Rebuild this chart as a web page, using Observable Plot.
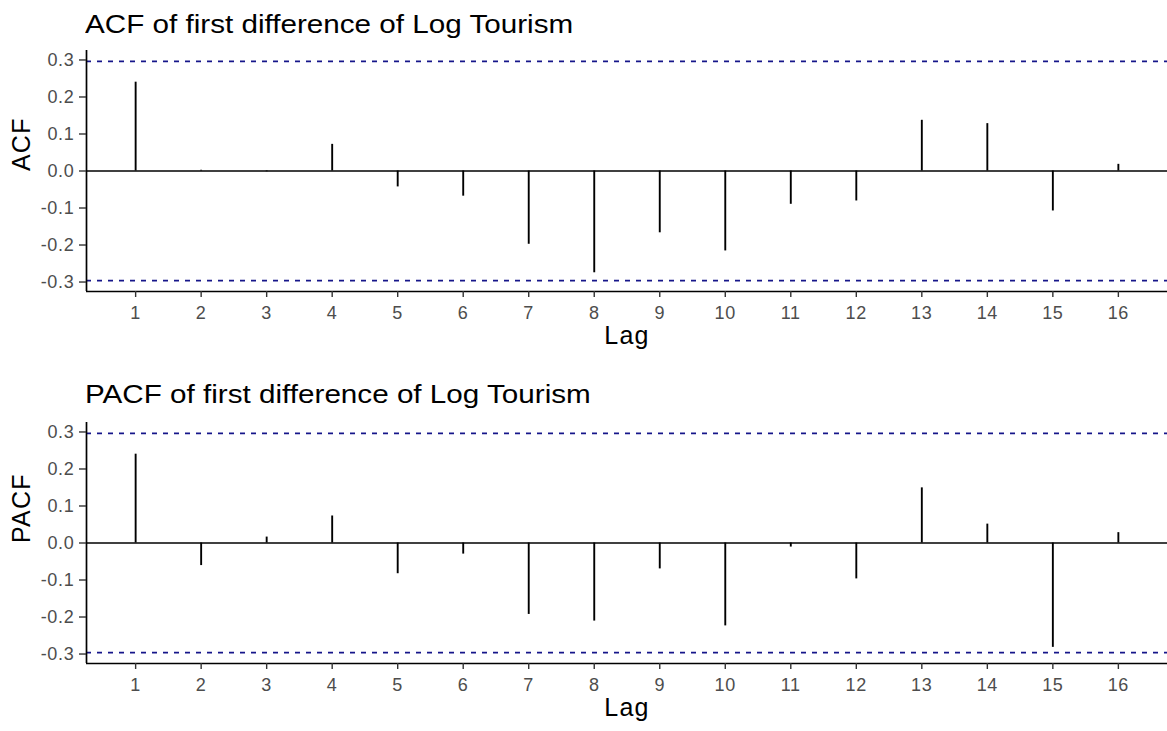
<!DOCTYPE html>
<html>
<head>
<meta charset="utf-8">
<script src="https://cdn.jsdelivr.net/npm/d3@7"></script>
<script src="https://cdn.jsdelivr.net/npm/@observablehq/plot@0.6"></script>
<style>
  html, body { margin: 0; padding: 0; background: #fff; }
  body { width: 1167px; height: 731px; overflow: hidden; position: relative; font-family: "Liberation Sans", Arial, sans-serif; }
  .title { position: absolute; left: 85px; font-size: 26px; line-height: 26px; color: #000; white-space: nowrap; transform: scaleX(1.14); transform-origin: left top; }
  .panel { position: absolute; left: 0; }
  .panel svg { display: block; overflow: visible; }
  .panel svg g[aria-label="x-axis tick label"],
  .panel svg g[aria-label="y-axis tick label"] { font-size: 18px; letter-spacing: 0.7px; }
  .panel svg g.axislabel { letter-spacing: 1.2px; }
</style>
</head>
<body>
<script>
// ---- data ----
const lags = [1, 2, 3, 4, 5, 6, 7, 8, 9, 10, 11, 12, 13, 14, 15, 16];
const acfValues = [0.240, 0.002, -0.002, 0.072, -0.043, -0.068, -0.198, -0.275, -0.167, -0.216, -0.090, -0.081, 0.137, 0.128, -0.108, 0.018];
const pacfValues = [0.240, -0.061, 0.016, 0.073, -0.083, -0.030, -0.193, -0.211, -0.070, -0.224, -0.011, -0.097, 0.149, 0.051, -0.282, 0.028];
const ciBound = 0.296;
const yTicks = [-0.3, -0.2, -0.1, 0.0, 0.1, 0.2, 0.3];
const titles = ["ACF of first difference of Log Tourism", "PACF of first difference of Log Tourism"];
const yLabels = ["ACF", "PACF"];
const xLabel = "Lag";

function panel(values, yLabel, height, marginBottom) {
  const data = lags.map((lag, i) => ({lag, value: values[i]}));
  const xmin = d3.min(lags), xmax = d3.max(lags);
  const xpad = (xmax - xmin) * 0.05;
  const ylo = Math.min(-ciBound, d3.min(values)), yhi = Math.max(ciBound, d3.max(values));
  const ypad = (yhi - ylo) * 0.05;
  const xDomain = [xmin - xpad, xmax + xpad];
  const yDomain = [ylo - ypad, yhi + ypad];
  return Plot.plot({
    width: 1167,
    height,
    marginLeft: 86,
    marginRight: 0,
    marginTop: 10,
    marginBottom,
    style: {fontFamily: '"Liberation Sans", Arial, sans-serif', background: "transparent"},
    x: {domain: xDomain, label: null},
    y: {domain: yDomain, label: null},
    marks: [
      Plot.ruleY([ciBound, -ciBound], {stroke: "#16168a", strokeWidth: 1.7, strokeDasharray: "5,6"}),
      Plot.ruleY([0], {stroke: "#000", strokeWidth: 1.7}),
      Plot.ruleX(data, {x: "lag", y1: 0, y2: "value", stroke: "#000", strokeWidth: 1.9}),
      Plot.ruleX([xDomain[0]], {stroke: "#000", strokeWidth: 1.7}),
      Plot.ruleY([yDomain[0]], {stroke: "#000", strokeWidth: 1.7}),
      Plot.axisX({ticks: lags, tickFormat: d => String(d), tickSize: 6, tickPadding: 9, fontSize: 18, fill: "#4d4d4d", stroke: "#333", strokeWidth: 1.4, label: null}),
      Plot.axisY({ticks: yTicks, tickFormat: d => d.toFixed(1), tickSize: 7, tickPadding: 5, fontSize: 18, fill: "#4d4d4d", stroke: "#333", strokeWidth: 1.4, label: null}),
      Plot.text([xLabel], {frameAnchor: "bottom", dy: 52, fontSize: 25, fill: "#000", className: "axislabel"}),
      Plot.text([yLabel], {frameAnchor: "left", dx: -65, rotate: -90, fontSize: 25, fill: "#000", className: "axislabel"})
    ]
  });
}

function addTitle(text, top) {
  const d = document.createElement("div");
  d.className = "title";
  d.style.top = top + "px";
  d.textContent = text;
  document.body.appendChild(d);
}

function addPanel(svg, top) {
  const d = document.createElement("div");
  d.className = "panel";
  d.style.top = top + "px";
  d.appendChild(svg);
  document.body.appendChild(d);
}

addTitle(titles[0], 11);
addPanel(panel(acfValues, yLabels[0], 330, 79), 40);
addTitle(titles[1], 381);
addPanel(panel(pacfValues, yLabels[1], 319, 68), 412);
</script>
</body>
</html>
